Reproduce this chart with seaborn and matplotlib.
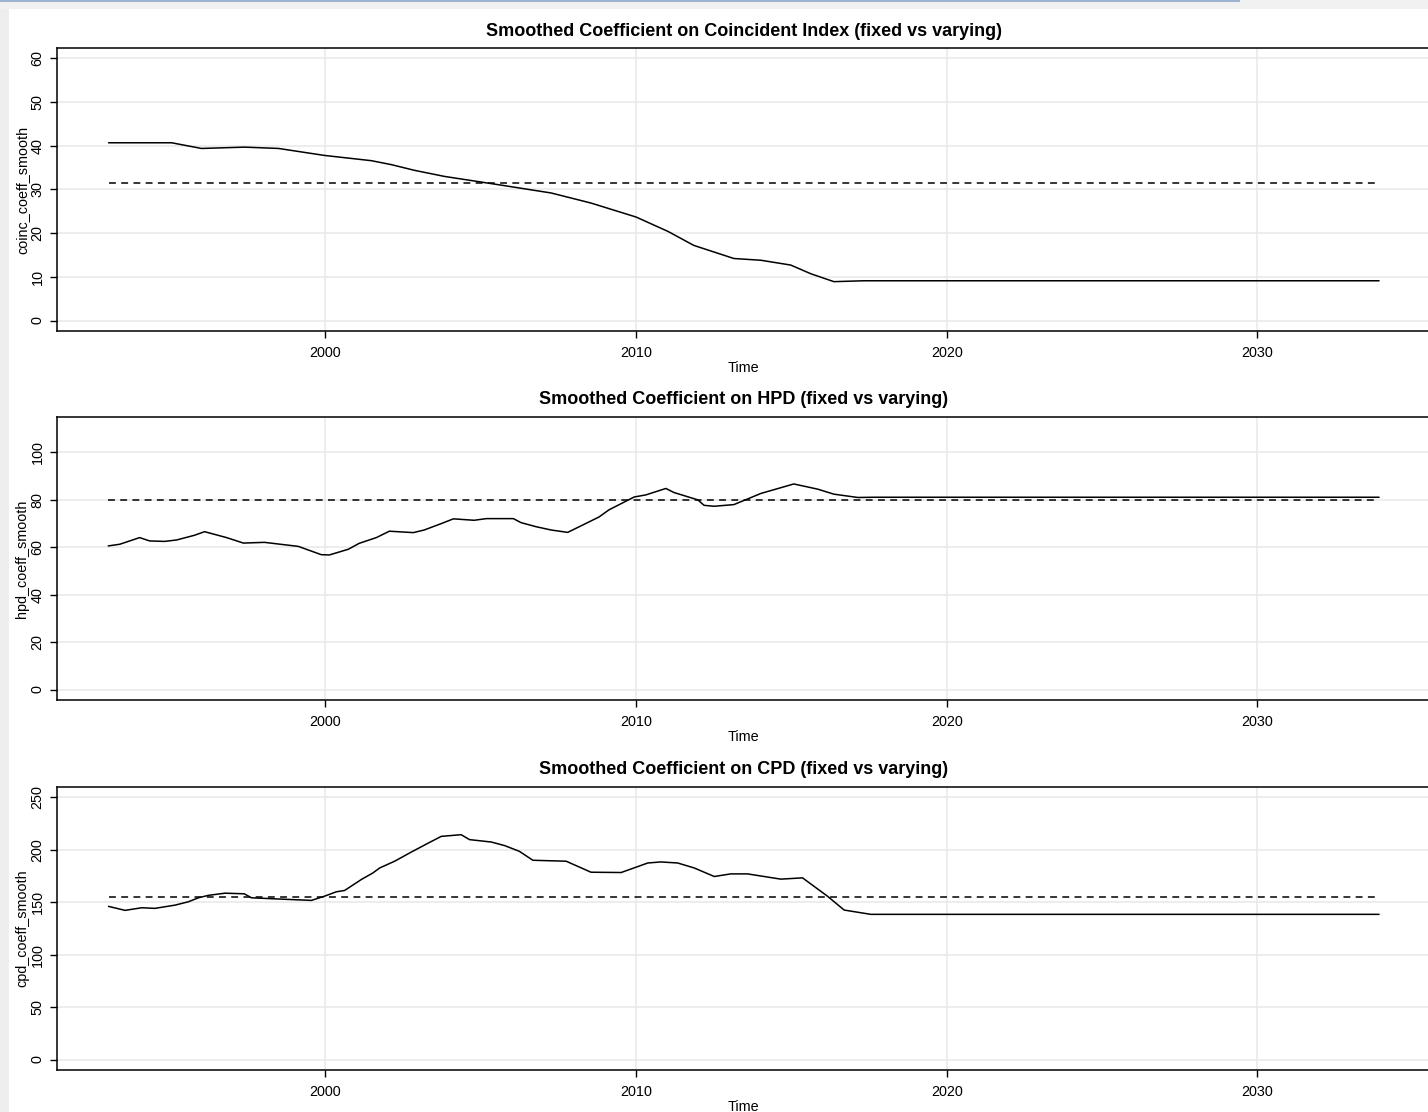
import matplotlib
matplotlib.use("Agg")
import matplotlib.pyplot as plt
import matplotlib.patches as mpatches
import seaborn as sns
import pandas as pd

# ---------------- data ----------------
coinc_time = [1993.02, 1995.05, 1996.01, 1997.40, 1998.49, 1999.97, 2001.48, 2002.12,
              2002.86, 2003.83, 2005.66, 2007.27, 2008.55, 2010.00, 2011.03, 2011.86,
              2013.15, 2014.02, 2014.98, 2015.63, 2016.37, 2017.33, 2033.92]
coinc_vals = [40.7, 40.7, 39.4, 39.7, 39.4, 37.8, 36.6, 35.7,
              34.4, 33.0, 31.0, 29.2, 26.9, 23.7, 20.4, 17.2,
              14.2, 13.8, 12.7, 10.7, 8.9, 9.1, 9.1]
coinc_fixed = 31.4

hpd_time = [1993.01, 1993.38, 1994.02, 1994.34, 1994.82, 1995.21, 1995.79, 1996.11,
            1996.82, 1997.36, 1998.04, 1998.36, 1999.13, 1999.87, 2000.13, 2000.74,
            2001.09, 2001.64, 2002.06, 2002.83, 2003.18, 2003.73, 2004.12, 2004.79,
            2005.18, 2006.05, 2006.30, 2006.78, 2007.27, 2007.80, 2008.33, 2008.81,
            2009.13, 2009.94, 2010.32, 2010.96, 2011.22, 2011.99, 2012.19, 2012.51,
            2013.15, 2014.02, 2015.08, 2015.85, 2016.37, 2017.14, 2017.65, 2033.92]
hpd_vals = [60.5, 61.2, 64.0, 62.6, 62.4, 63.0, 65.0, 66.5,
            64.0, 61.7, 62.0, 61.5, 60.3, 56.8, 56.7, 59.1,
            61.6, 64.0, 66.7, 66.1, 67.2, 69.9, 71.9, 71.3,
            72.0, 72.0, 70.3, 68.6, 67.2, 66.2, 69.6, 72.7,
            75.7, 81.1, 82.0, 84.7, 83.0, 79.9, 77.6, 77.2,
            77.9, 82.6, 86.6, 84.4, 82.3, 80.9, 81.0, 81.0]
hpd_fixed = 79.7

cpd_time = [1993.02, 1993.55, 1994.09, 1994.51, 1995.16, 1995.59, 1995.91, 1996.23,
            1996.77, 1997.39, 1997.62, 1998.37, 1999.55, 1999.98, 2000.35, 2000.62,
            2001.16, 2001.53, 2001.75, 2002.23, 2002.77, 2003.30, 2003.73, 2004.37,
            2004.64, 2005.34, 2005.77, 2006.24, 2006.68, 2007.75, 2008.55, 2009.52,
            2010.38, 2010.80, 2011.34, 2011.87, 2012.52, 2013.05, 2013.59, 2014.66,
            2015.36, 2016.16, 2016.70, 2017.56, 2018.53, 2033.92]
cpd_vals = [146.1, 142.3, 144.8, 144.2, 147.3, 150.5, 154.3, 156.6,
            158.7, 158.1, 154.3, 153.3, 151.8, 155.9, 160.0, 161.3,
            171.8, 178.0, 182.8, 189.2, 198.0, 206.3, 212.9, 214.5,
            209.8, 207.5, 204.1, 198.7, 190.1, 189.2, 178.7, 178.4,
            187.5, 188.5, 187.5, 182.8, 174.6, 177.1, 177.1, 172.1,
            173.3, 155.9, 142.6, 138.5, 138.5, 138.5]
cpd_fixed = 155.0

titles = ["Smoothed Coefficient on Coincident Index (fixed vs varying)",
          "Smoothed Coefficient on HPD (fixed vs varying)",
          "Smoothed Coefficient on CPD (fixed vs varying)"]
ylabels = ["coinc_coeff_smooth", "hpd_coeff_smooth", "cpd_coeff_smooth"]
xlabel = "Time"
xticks = [2000, 2010, 2020, 2030]
yticks_list = [[0, 10, 20, 30, 40, 50, 60],
               [0, 20, 40, 60, 80, 100],
               [0, 50, 100, 150, 200, 250]]
ylims = [(-2.4, 62.4), (-4.4, 114.8), (-10, 260)]

series = [(coinc_time, coinc_vals, coinc_fixed),
          (hpd_time, hpd_vals, hpd_fixed),
          (cpd_time, cpd_vals, cpd_fixed)]

# ---------------- styling ----------------
sns.set_theme(style="white")
plt.rcParams['font.family'] = ['Liberation Sans', 'DejaVu Sans']
plt.rcParams['text.color'] = 'black'
plt.rcParams['axes.labelcolor'] = 'black'
plt.rcParams['xtick.color'] = 'black'
plt.rcParams['ytick.color'] = 'black'

W, H = 1428, 1112
fig = plt.figure(figsize=(W / 100, H / 100), dpi=100)
fig.patch.set_facecolor("white")

# page-background strips of the screenshot
fig.patches.append(mpatches.Rectangle((0, 0), 9 / W, 1, transform=fig.transFigure,
                                      facecolor="#eeeeee", edgecolor="none", zorder=0))
fig.patches.append(mpatches.Rectangle((0, 1 - 9 / H), 1, 9 / H, transform=fig.transFigure,
                                      facecolor="#f1f1f1", edgecolor="none", zorder=0))
fig.patches.append(mpatches.Rectangle((0, 1 - 2 / H), 1240 / W, 2 / H, transform=fig.transFigure,
                                      facecolor="#9db3d2", edgecolor="none", zorder=1))

panel_tops = [48, 417, 787]
panel_h = 283
left_px, right_px = 57, 1430

for i, ((t, v, fixed), top) in enumerate(zip(series, panel_tops)):
    bottom = top + panel_h
    ax = fig.add_axes([left_px / W, 1 - bottom / H, (right_px - left_px) / W, panel_h / H])
    ax.set_facecolor("white")

    df = pd.DataFrame({"Time": t, "value": v})
    dfx = pd.DataFrame({"Time": [t[0], t[-1]], "value": [fixed, fixed]})

    ax.set_xlim(1991.36, 2035.56)
    ax.set_ylim(*ylims[i])
    ax.set_xticks(xticks)
    ax.set_yticks(yticks_list[i])
    ax.grid(True, color="#e8e8e8", lw=1.1, zorder=0)
    ax.set_axisbelow(True)

    sns.lineplot(data=df, x="Time", y="value", ax=ax, color="black", lw=1.1,
                 estimator=None, sort=False, zorder=3)
    sns.lineplot(data=dfx, x="Time", y="value", ax=ax, color="black", lw=1.1,
                 estimator=None, sort=False, zorder=3)
    ax.lines[-1].set_linestyle((0, (4.5, 3.5)))

    for s in ax.spines.values():
        s.set_visible(True)
        s.set_color("black")
        s.set_linewidth(1.1)

    ax.tick_params(axis="both", which="major", direction="out", length=5, width=1.0,
                   color="black", labelcolor="black", labelsize=10.4,
                   bottom=True, left=True)
    ax.tick_params(axis="x", pad=5.5)
    ax.tick_params(axis="y", labelrotation=90, pad=4)
    for lab in ax.get_yticklabels():
        lab.set_va("center")

    ax.set_title(titles[i], fontsize=13, fontweight="bold", pad=9, color="black")
    ax.set_xlabel(xlabel, fontsize=10.4, labelpad=1.2, color="black")
    ax.set_ylabel(ylabels[i], fontsize=10.4, labelpad=1, color="black")

fig.savefig("out.png", dpi=100)
